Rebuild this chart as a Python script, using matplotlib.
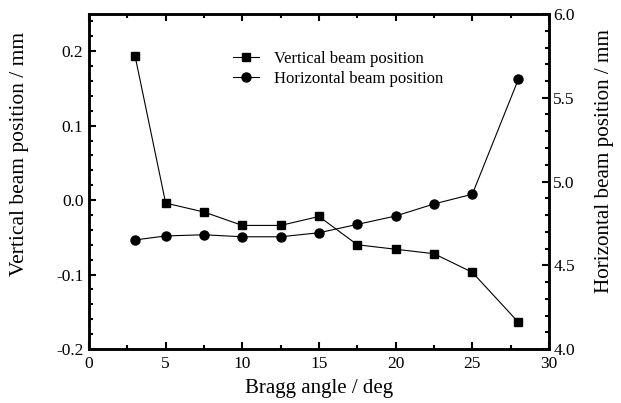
import matplotlib
matplotlib.use("Agg")
import matplotlib.pyplot as plt
from matplotlib.ticker import MultipleLocator

plt.rcParams['font.family'] = ['Liberation Serif', 'DejaVu Serif']

# data
angle = [3, 5, 7.5, 10, 12.5, 15, 17.5, 20, 22.5, 25, 28]
vertical = [0.194, -0.004, -0.016, -0.034, -0.034, -0.022, -0.060, -0.066, -0.072, -0.097, -0.164]
horizontal = [4.651, 4.675, 4.682, 4.670, 4.670, 4.694, 4.744, 4.794, 4.866, 4.924, 5.61]
left_ticks = [-0.2, -0.1, 0.0, 0.1, 0.2]
left_labels = ['-0.2', '-0.1', '0.0', '0.1', '0.2']

fig = plt.figure(figsize=(6.21, 4.03), dpi=100)
ax = fig.add_axes([89/621, 1 - 349/403, (549-89)/621, (349-14)/403])
ax2 = ax.twinx()

l1, = ax.plot(angle, vertical, 'k-', marker='s', markersize=6, lw=0.8,
              label='Vertical beam position')
l2, = ax2.plot(angle, horizontal, 'k-', marker='o', markersize=6.5, lw=0.8,
               label='Horizontal beam position')

ax.set_xlim(0, 30)
ax.set_ylim(-0.2, 0.25)
ax2.set_ylim(4.0, 6.0)

ax.xaxis.set_major_locator(MultipleLocator(5))
ax.xaxis.set_minor_locator(MultipleLocator(2.5))
ax.yaxis.set_minor_locator(MultipleLocator(0.02))
ax2.yaxis.set_major_locator(MultipleLocator(0.5))
ax2.yaxis.set_minor_locator(MultipleLocator(0.1))
ax.set_yticks(left_ticks)
ax.set_yticklabels(left_labels)

ax.tick_params(axis='x', which='both', direction='in', top=True, labelsize=12.5, width=1.5)
ax.tick_params(axis='x', which='major', length=5, pad=5)
ax.tick_params(axis='x', which='minor', length=3)
ax.tick_params(axis='y', which='both', direction='in', labelsize=12.5, width=1.5)
ax.tick_params(axis='y', which='major', length=5, pad=4)
ax.tick_params(axis='y', which='minor', length=3)
ax2.tick_params(axis='y', which='both', direction='in', labelsize=12.5, width=1.5)
ax2.tick_params(axis='y', which='major', length=5, pad=3)
ax2.tick_params(axis='y', which='minor', length=3)

for a in (ax, ax2):
    for s in a.spines.values():
        s.set_linewidth(1.8)

ax.set_xlabel('Bragg angle / deg', fontsize=15, labelpad=5)
ax.set_ylabel('Vertical beam position / mm', fontsize=15.5)
ax2.set_ylabel('Horizontal beam position / mm', fontsize=15.2)
ax.yaxis.set_label_coords(-0.13, 0.582)
ax2.yaxis.set_label_coords(1.1, 0.561)

ax.legend([l1, l2], [l1.get_label(), l2.get_label()], loc='upper left',
          bbox_to_anchor=(0.298, 0.91), frameon=False, fontsize=12,
          handlelength=1.6, handletextpad=0.85, labelspacing=0.25,
          borderaxespad=0)

fig.savefig('out.png', dpi=100)
